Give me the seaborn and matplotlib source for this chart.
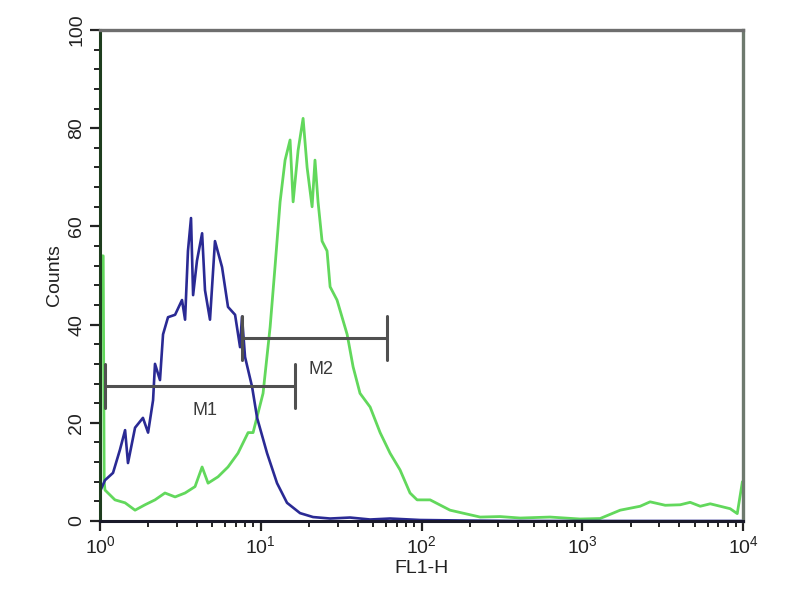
import numpy as np
import pandas as pd
import matplotlib
matplotlib.use('Agg')
import matplotlib.pyplot as plt
import seaborn as sns
from matplotlib.ticker import LogLocator, MultipleLocator

# log10(FL1-H) positions and counts
blue_log = [0.0, 0.031, 0.081, 0.124, 0.156, 0.174, 0.218, 0.267, 0.299, 0.330,
            0.342, 0.373, 0.392, 0.423, 0.467, 0.510, 0.529, 0.547, 0.566, 0.579,
            0.603, 0.635, 0.653, 0.684, 0.715, 0.759, 0.796, 0.840, 0.871, 0.883,
            0.902, 0.946, 0.977, 1.039, 1.101, 1.163, 1.244, 1.325, 1.431, 1.555,
            1.680, 1.804, 1.991, 2.24, 2.6, 3.0, 3.5, 4.0]
blue_counts = [6, 8.3, 9.8, 14.5, 18.5, 11.8, 19, 21, 18, 24.6,
               32, 28.7, 38, 41.5, 42, 45, 41, 55, 61.7, 46,
               53, 58.6, 47, 41, 57, 51.7, 43.6, 42, 35.4, 41.6,
               33.4, 27.3, 21, 13.8, 7.7, 3.7, 1.6, 0.8, 0.5, 0.7,
               0.3, 0.5, 0.2, 0.1, 0, 0, 0, 0]

green_log = [0.0, 0.02, 0.026, 0.031, 0.093, 0.156, 0.218, 0.280, 0.342, 0.404,
             0.467, 0.529, 0.591, 0.635, 0.672, 0.734, 0.796, 0.858, 0.921, 0.952,
             1.014, 1.058, 1.089, 1.120, 1.151, 1.182, 1.201, 1.232, 1.263, 1.288,
             1.319, 1.337, 1.356, 1.381, 1.412, 1.431, 1.474, 1.537, 1.574, 1.617,
             1.680, 1.742, 1.804, 1.866, 1.928, 1.972, 2.053, 2.177, 2.27, 2.364,
             2.488, 2.613, 2.799, 2.986, 3.110, 3.235, 3.359, 3.421, 3.515, 3.608,
             3.670, 3.733, 3.795, 3.857, 3.919, 3.963, 3.995, 4.0]
green_counts = [54, 54, 8, 6.3, 4.3, 3.7, 2.2, 3.3, 4.3, 5.7,
                4.9, 5.7, 7, 11, 7.7, 9, 11, 13.8, 18, 18,
                26, 39.5, 52, 65, 73.5, 77.6, 65, 75.5, 82, 72,
                64, 73.5, 65, 57, 55, 47.7, 45, 38, 31.4, 26,
                23.2, 18, 13.8, 10.4, 5.7, 4.3, 4.3, 2.2, 1.5, 0.8,
                0.9, 0.6, 0.8, 0.4, 0.5, 2.2, 3.0, 3.9, 3.2, 3.3,
                3.8, 3.0, 3.5, 3.0, 2.5, 1.5, 8, 8]

# marker gates
gate_names = ['M1', 'M2']
gate_start = [1.07, 7.6]
gate_end = [16.3, 61.0]
gate_level = [27.5, 37.3]
label_x = [4.5, 23.7]
label_y = [22.6, 30.8]

blue_df = pd.DataFrame({'FL1-H': np.power(10.0, blue_log), 'Counts': blue_counts})
green_df = pd.DataFrame({'FL1-H': np.power(10.0, green_log), 'Counts': green_counts})

sns.set_style('white')
plt.rcParams['font.family'] = ['Liberation Sans', 'DejaVu Sans']
plt.rcParams['mathtext.fontset'] = 'custom'
plt.rcParams['mathtext.rm'] = 'Liberation Sans'
plt.rcParams['mathtext.it'] = 'Liberation Sans'

fig = plt.figure(figsize=(8, 6), dpi=100)
ax = fig.add_axes([0.125, 0.1317, 0.804, 0.8183])

sns.lineplot(data=green_df, x='FL1-H', y='Counts', sort=False, estimator=None,
             color='#62d85c', lw=2.0, ax=ax)
sns.lineplot(data=blue_df, x='FL1-H', y='Counts', sort=False, estimator=None,
             color='#2a2a94', lw=1.9, ax=ax)

# gate markers
for i in range(len(gate_names)):
    ax.plot([gate_start[i], gate_end[i]], [gate_level[i], gate_level[i]],
            color='#505050', lw=2.2)
    for xx in (gate_start[i], gate_end[i]):
        ax.plot([xx, xx], [gate_level[i] - 4.5, gate_level[i] + 4.5],
                color='#505050', lw=2.2)
    ax.text(label_x[i], label_y[i], gate_names[i], fontsize=13,
            ha='center', va='center', color='#3a3a3a')

ax.set_xscale('log')
ax.set_xlim(1, 1e4)
ax.set_ylim(0, 100)
ax.xaxis.set_major_locator(LogLocator(base=10, numticks=10))
ax.xaxis.set_minor_locator(LogLocator(base=10, subs=np.arange(2, 10), numticks=10))
ax.yaxis.set_major_locator(MultipleLocator(20))
ax.yaxis.set_minor_locator(MultipleLocator(4))

ax.tick_params(axis='both', which='major', direction='out', length=7, width=1.6,
               labelsize=14, colors='#222222', left=True, bottom=True)
ax.tick_params(axis='both', which='minor', direction='out', length=4, width=1.4,
               colors='#222222', left=True, bottom=True)
for lab in ax.get_yticklabels():
    lab.set_rotation(90)
    lab.set_va('center')

ax.set_xlabel('FL1-H', fontsize=14, color='#222222', labelpad=2)
ax.set_ylabel('Counts', fontsize=14, color='#222222', labelpad=4)

ax.spines['left'].set_color('#1e3d1e')
ax.spines['left'].set_linewidth(2.2)
ax.spines['bottom'].set_color('#1a1a2a')
ax.spines['bottom'].set_linewidth(2.2)
ax.spines['top'].set_color('#6e6e6e')
ax.spines['top'].set_linewidth(2.4)
ax.spines['right'].set_color('#6e7a6e')
ax.spines['right'].set_linewidth(2.4)

fig.savefig('out.png', dpi=100)
